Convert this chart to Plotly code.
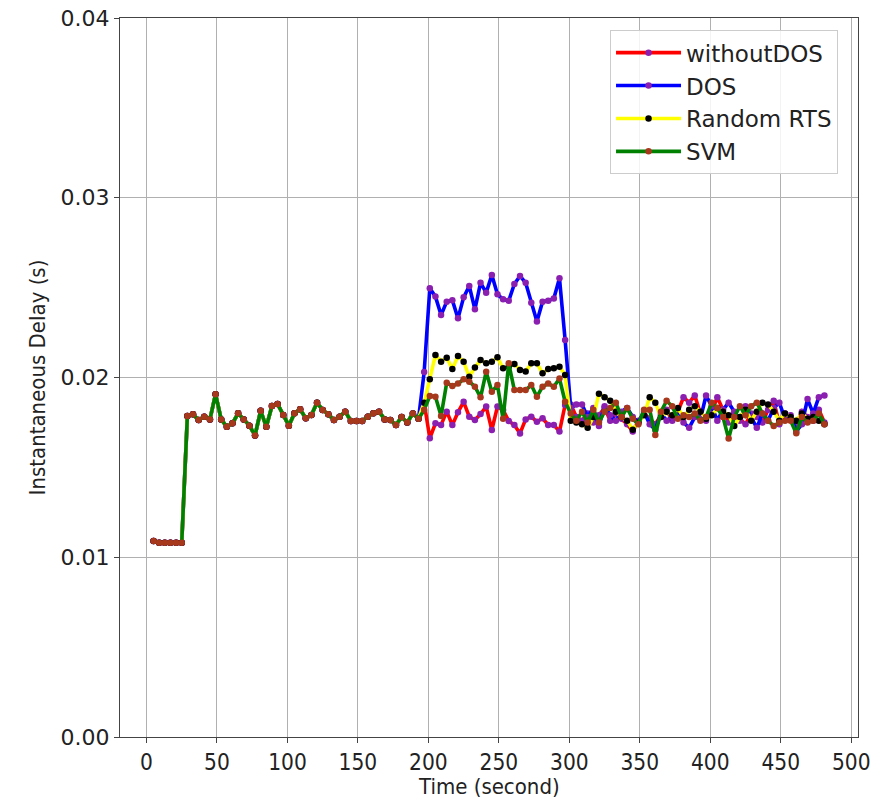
import plotly.graph_objects as go

# time axis (seconds), one sample every 4 s
time_s = list(range(5, 482, 4))

# common part (all four series identical before the attack window), t = 5 .. 193
common = [0.0109, 0.0108, 0.0108, 0.0108, 0.0108, 0.0108,
          0.01786, 0.01795, 0.01764, 0.01782, 0.01767, 0.01907, 0.01767, 0.01726,
          0.01745, 0.01801, 0.01767, 0.01732, 0.01678, 0.01815, 0.01726, 0.01841,
          0.01853, 0.01791, 0.01732, 0.01801, 0.01823, 0.01773, 0.01791, 0.01860,
          0.01819, 0.01795, 0.01764, 0.01782, 0.01810, 0.01758, 0.01758, 0.01758,
          0.01782, 0.01801, 0.01810, 0.01767, 0.01764, 0.01736, 0.01780, 0.01750,
          0.01800, 0.01770]

# t = 197 .. 297
red_mid = [0.0186, 0.01662, 0.01745, 0.01736, 0.01810, 0.01736, 0.01806, 0.01865,
           0.01782, 0.01764, 0.01797, 0.01838, 0.01708, 0.01838, 0.01819, 0.01758,
           0.01736, 0.01689, 0.01767, 0.01782, 0.01754, 0.01773, 0.01736, 0.01736,
           0.01699, 0.01847]
blue_mid = [0.0203, 0.02496, 0.02450, 0.02348, 0.02422, 0.02430, 0.02329, 0.02446,
            0.02509, 0.02379, 0.02527, 0.02472, 0.02570, 0.02463, 0.02435, 0.02427,
            0.02520, 0.02565, 0.02527, 0.02416, 0.02311, 0.02422, 0.02427, 0.02440,
            0.02552, 0.02209]
yellow_mid = [0.0186, 0.0199, 0.02125, 0.02088, 0.02110, 0.02047, 0.02119, 0.02088,
              0.02004, 0.02055, 0.02097, 0.02079, 0.02088, 0.02112, 0.02051, 0.02060,
              0.02075, 0.02042, 0.02033, 0.02079, 0.02079, 0.02023, 0.02047, 0.02051,
              0.02060, 0.02014]
green_mid = [0.0182, 0.01897, 0.01893, 0.01786, 0.01971, 0.01953, 0.01966, 0.01990,
             0.01977, 0.01949, 0.01890, 0.02032, 0.01921, 0.01958, 0.0177, 0.02079,
             0.01930, 0.01930, 0.01930, 0.01958, 0.01893, 0.01949, 0.01966, 0.01949,
             0.01995, 0.01865]

# t = 301 .. 481
red_post = [0.0185, 0.0178, 0.0176, 0.0180, 0.0175, 0.0179, 0.0183, 0.0176, 0.0180,
            0.0177, 0.0174, 0.0170, 0.0176, 0.0180, 0.0177, 0.0174, 0.0179, 0.0182,
            0.0176, 0.0181, 0.0189, 0.0186, 0.0190, 0.0180, 0.0176, 0.0181, 0.0189,
            0.0182, 0.0175, 0.0180, 0.0177, 0.0174, 0.0180, 0.0178, 0.0175, 0.0182,
            0.0187, 0.0174, 0.0180, 0.0177, 0.0174, 0.0181, 0.0178, 0.0176, 0.0182,
            0.0175]
blue_post = [0.0183, 0.0185, 0.0185, 0.0178, 0.0183, 0.0173, 0.0184, 0.0179, 0.0176,
             0.0181, 0.0183, 0.0178, 0.0175, 0.0181, 0.0174, 0.0171, 0.0180, 0.0176,
             0.0178, 0.0182, 0.0175, 0.0172, 0.0178, 0.0177, 0.0190, 0.0184, 0.0176,
             0.0182, 0.0186, 0.0181, 0.0176, 0.0184, 0.0178, 0.0172, 0.0180, 0.0176,
             0.0183, 0.0186, 0.0177, 0.0179, 0.0170, 0.0174, 0.0188, 0.0180, 0.0189,
             0.0190]
yellow_post = [0.0176, 0.0175, 0.0174, 0.0172, 0.0178, 0.0191, 0.0189, 0.0187, 0.0181,
               0.0178, 0.0176, 0.0171, 0.0175, 0.0179, 0.0189, 0.0186, 0.0178, 0.0181,
               0.0179, 0.0183, 0.0178, 0.0182, 0.0184, 0.0181, 0.0177, 0.0179, 0.0183,
               0.0181, 0.0179, 0.0173, 0.0178, 0.0182, 0.0176, 0.0181, 0.0186, 0.0185,
               0.0181, 0.0176, 0.0180, 0.0178, 0.0176, 0.0180, 0.0177, 0.0178, 0.0176,
               0.0174]
green_post = [0.0180, 0.0176, 0.0181, 0.0175, 0.0182, 0.0175, 0.0181, 0.0183, 0.0186,
              0.0178, 0.0183, 0.0177, 0.0174, 0.0182, 0.0182, 0.0168, 0.0181, 0.0187,
              0.0184, 0.0177, 0.0179, 0.0178, 0.0180, 0.0176, 0.0178, 0.0186, 0.0183,
              0.0178, 0.0166, 0.0178, 0.0184, 0.0179, 0.0184, 0.0186, 0.0180, 0.0176,
              0.0173, 0.0175, 0.0176, 0.0176, 0.0169, 0.0178, 0.0175, 0.0176, 0.0180,
              0.0174]

without_dos = common + red_mid + red_post
dos = common + blue_mid + blue_post
random_rts = common + yellow_mid + yellow_post
svm = common + green_mid + green_post

series_names = ["withoutDOS", "DOS", "Random RTS", "SVM"]
series_values = [without_dos, dos, random_rts, svm]
line_colors = ["#ff0000", "#0000ff", "#ffff00", "#008000"]
marker_colors = ["#8a1fb0", "#8a1fb0", "#000000", "#a8381c"]

x_ticks = [0, 50, 100, 150, 200, 250, 300, 350, 400, 450, 500]
y_ticks = [0.0, 0.01, 0.02, 0.03, 0.04]

fig = go.Figure()
for name, vals, lc, mc in zip(series_names, series_values, line_colors, marker_colors):
    fig.add_trace(go.Scatter(
        x=time_s, y=vals, name=name, mode="lines+markers",
        line=dict(color=lc, width=3.6),
        marker=dict(color=mc, size=6.5, line=dict(width=0)),
    ))

cond = "DejaVu Sans Condensed, Liberation Sans Narrow, Roboto, sans-serif"
axis_common = dict(
    showgrid=True, gridcolor="#b0b0b0", gridwidth=1,
    showline=True, linecolor="#444444", linewidth=1.2, mirror=True,
    ticks="outside", ticklen=5, tickcolor="#444444", tickwidth=1,
    zeroline=False,
)
fig.update_xaxes(
    range=[-18.8, 504.8], tickvals=x_ticks,
    tickfont=dict(family=cond, size=22.5, color="#222222"),
    **axis_common,
)
fig.update_yaxes(
    range=[0, 0.04], tickvals=y_ticks, tickformat=".2f",
    tickfont=dict(family="DejaVu Sans", size=22, color="#222222"),
    title=dict(text="Instantaneous Delay (s)", font=dict(family=cond, size=22, color="#222222"), standoff=8),
    **axis_common,
)
fig.add_annotation(
    text="Time (second)", xref="paper", yref="paper", x=0.5, y=-0.0695,
    xanchor="center", yanchor="middle", showarrow=False,
    font=dict(family=cond, size=22, color="#222222"),
)
fig.update_layout(
    width=892, height=800,
    margin=dict(l=120, r=34, t=18, b=63, autoexpand=False),
    plot_bgcolor="white", paper_bgcolor="white",
    legend=dict(
        x=0.664, y=0.983, xanchor="left", yanchor="top",
        bgcolor="rgba(255,255,255,0.85)", bordercolor="#cccccc", borderwidth=1,
        font=dict(family="DejaVu Sans", size=23, color="#222222"),
        itemwidth=65, tracegroupgap=2,
    ),
    showlegend=True,
)
fig.write_html("out.html")
